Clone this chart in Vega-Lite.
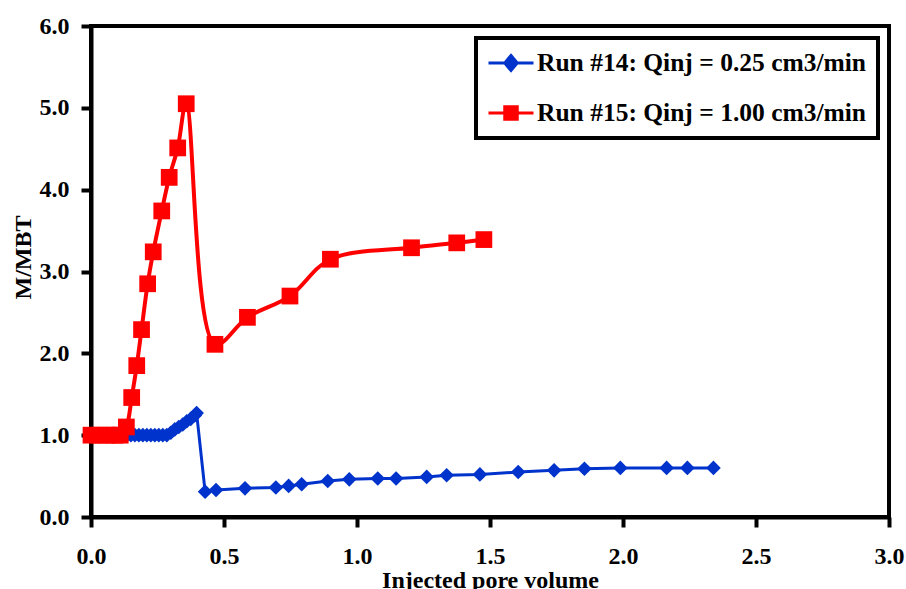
{
  "$schema": "https://vega.github.io/schema/vega-lite/v6.json",
  "width": 798,
  "height": 491,
  "autosize": {"type": "none"},
  "padding": {"left": 91, "top": 26, "right": 17, "bottom": 72},
  "background": "white",
  "config": {
    "view": {"stroke": "black", "strokeWidth": 4},
    "font": "Liberation Serif",
    "axis": {
      "grid": false,
      "domainColor": "black",
      "domainWidth": 4,
      "tickColor": "black",
      "tickWidth": 4,
      "tickSize": 10,
      "labelFlush": false,
      "labelFont": "Liberation Serif, Times New Roman, serif",
      "labelFontWeight": "bold",
      "labelFontSize": 24,
      "labelColor": "black",
      "titleFont": "Liberation Serif, Times New Roman, serif",
      "titleFontWeight": "bold",
      "titleFontSize": 24,
      "titleColor": "black"
    }
  },
  "data": {
    "values": [
      {"run": "Run #14: Qinj = 0.25 cm3/min", "pv": 0.0, "m": 1.0},
      {"run": "Run #14: Qinj = 0.25 cm3/min", "pv": 0.015, "m": 1.0},
      {"run": "Run #14: Qinj = 0.25 cm3/min", "pv": 0.03, "m": 1.0},
      {"run": "Run #14: Qinj = 0.25 cm3/min", "pv": 0.045, "m": 1.0},
      {"run": "Run #14: Qinj = 0.25 cm3/min", "pv": 0.06, "m": 1.0},
      {"run": "Run #14: Qinj = 0.25 cm3/min", "pv": 0.075, "m": 1.0},
      {"run": "Run #14: Qinj = 0.25 cm3/min", "pv": 0.09, "m": 1.0},
      {"run": "Run #14: Qinj = 0.25 cm3/min", "pv": 0.105, "m": 1.0},
      {"run": "Run #14: Qinj = 0.25 cm3/min", "pv": 0.12, "m": 1.0},
      {"run": "Run #14: Qinj = 0.25 cm3/min", "pv": 0.135, "m": 1.0},
      {"run": "Run #14: Qinj = 0.25 cm3/min", "pv": 0.15, "m": 1.0},
      {"run": "Run #14: Qinj = 0.25 cm3/min", "pv": 0.165, "m": 1.0},
      {"run": "Run #14: Qinj = 0.25 cm3/min", "pv": 0.18, "m": 1.0},
      {"run": "Run #14: Qinj = 0.25 cm3/min", "pv": 0.195, "m": 1.0},
      {"run": "Run #14: Qinj = 0.25 cm3/min", "pv": 0.21, "m": 1.0},
      {"run": "Run #14: Qinj = 0.25 cm3/min", "pv": 0.225, "m": 1.0},
      {"run": "Run #14: Qinj = 0.25 cm3/min", "pv": 0.24, "m": 1.0},
      {"run": "Run #14: Qinj = 0.25 cm3/min", "pv": 0.255, "m": 1.0},
      {"run": "Run #14: Qinj = 0.25 cm3/min", "pv": 0.27, "m": 1.0},
      {"run": "Run #14: Qinj = 0.25 cm3/min", "pv": 0.285, "m": 1.0},
      {"run": "Run #14: Qinj = 0.25 cm3/min", "pv": 0.30, "m": 1.03},
      {"run": "Run #14: Qinj = 0.25 cm3/min", "pv": 0.315, "m": 1.07},
      {"run": "Run #14: Qinj = 0.25 cm3/min", "pv": 0.33, "m": 1.10},
      {"run": "Run #14: Qinj = 0.25 cm3/min", "pv": 0.345, "m": 1.13},
      {"run": "Run #14: Qinj = 0.25 cm3/min", "pv": 0.36, "m": 1.17},
      {"run": "Run #14: Qinj = 0.25 cm3/min", "pv": 0.375, "m": 1.20},
      {"run": "Run #14: Qinj = 0.25 cm3/min", "pv": 0.39, "m": 1.24},
      {"run": "Run #14: Qinj = 0.25 cm3/min", "pv": 0.397, "m": 1.27},
      {"run": "Run #14: Qinj = 0.25 cm3/min", "pv": 0.429, "m": 0.31},
      {"run": "Run #14: Qinj = 0.25 cm3/min", "pv": 0.47, "m": 0.33},
      {"run": "Run #14: Qinj = 0.25 cm3/min", "pv": 0.579, "m": 0.35},
      {"run": "Run #14: Qinj = 0.25 cm3/min", "pv": 0.695, "m": 0.36},
      {"run": "Run #14: Qinj = 0.25 cm3/min", "pv": 0.743, "m": 0.38},
      {"run": "Run #14: Qinj = 0.25 cm3/min", "pv": 0.792, "m": 0.40},
      {"run": "Run #14: Qinj = 0.25 cm3/min", "pv": 0.89, "m": 0.44},
      {"run": "Run #14: Qinj = 0.25 cm3/min", "pv": 0.971, "m": 0.46},
      {"run": "Run #14: Qinj = 0.25 cm3/min", "pv": 1.078, "m": 0.47},
      {"run": "Run #14: Qinj = 0.25 cm3/min", "pv": 1.147, "m": 0.47},
      {"run": "Run #14: Qinj = 0.25 cm3/min", "pv": 1.262, "m": 0.49},
      {"run": "Run #14: Qinj = 0.25 cm3/min", "pv": 1.337, "m": 0.51},
      {"run": "Run #14: Qinj = 0.25 cm3/min", "pv": 1.462, "m": 0.52},
      {"run": "Run #14: Qinj = 0.25 cm3/min", "pv": 1.606, "m": 0.55},
      {"run": "Run #14: Qinj = 0.25 cm3/min", "pv": 1.741, "m": 0.57},
      {"run": "Run #14: Qinj = 0.25 cm3/min", "pv": 1.855, "m": 0.59},
      {"run": "Run #14: Qinj = 0.25 cm3/min", "pv": 1.99, "m": 0.60},
      {"run": "Run #14: Qinj = 0.25 cm3/min", "pv": 2.164, "m": 0.60},
      {"run": "Run #14: Qinj = 0.25 cm3/min", "pv": 2.242, "m": 0.60},
      {"run": "Run #14: Qinj = 0.25 cm3/min", "pv": 2.34, "m": 0.60},
      {"run": "Run #15: Qinj = 1.00 cm3/min", "pv": 0.0, "m": 1.0},
      {"run": "Run #15: Qinj = 1.00 cm3/min", "pv": 0.03, "m": 1.0},
      {"run": "Run #15: Qinj = 1.00 cm3/min", "pv": 0.06, "m": 1.0},
      {"run": "Run #15: Qinj = 1.00 cm3/min", "pv": 0.09, "m": 1.0},
      {"run": "Run #15: Qinj = 1.00 cm3/min", "pv": 0.11, "m": 1.0},
      {"run": "Run #15: Qinj = 1.00 cm3/min", "pv": 0.133, "m": 1.10},
      {"run": "Run #15: Qinj = 1.00 cm3/min", "pv": 0.153, "m": 1.46},
      {"run": "Run #15: Qinj = 1.00 cm3/min", "pv": 0.172, "m": 1.85},
      {"run": "Run #15: Qinj = 1.00 cm3/min", "pv": 0.19, "m": 2.29},
      {"run": "Run #15: Qinj = 1.00 cm3/min", "pv": 0.213, "m": 2.85},
      {"run": "Run #15: Qinj = 1.00 cm3/min", "pv": 0.234, "m": 3.24},
      {"run": "Run #15: Qinj = 1.00 cm3/min", "pv": 0.266, "m": 3.74},
      {"run": "Run #15: Qinj = 1.00 cm3/min", "pv": 0.294, "m": 4.15},
      {"run": "Run #15: Qinj = 1.00 cm3/min", "pv": 0.326, "m": 4.51},
      {"run": "Run #15: Qinj = 1.00 cm3/min", "pv": 0.358, "m": 5.05},
      {"run": "Run #15: Qinj = 1.00 cm3/min", "pv": 0.466, "m": 2.11},
      {"run": "Run #15: Qinj = 1.00 cm3/min", "pv": 0.588, "m": 2.44},
      {"run": "Run #15: Qinj = 1.00 cm3/min", "pv": 0.748, "m": 2.70},
      {"run": "Run #15: Qinj = 1.00 cm3/min", "pv": 0.90, "m": 3.15},
      {"run": "Run #15: Qinj = 1.00 cm3/min", "pv": 1.205, "m": 3.29},
      {"run": "Run #15: Qinj = 1.00 cm3/min", "pv": 1.375, "m": 3.35},
      {"run": "Run #15: Qinj = 1.00 cm3/min", "pv": 1.477, "m": 3.39}
    ]
  },
  "encoding": {
    "x": {
      "field": "pv",
      "type": "quantitative",
      "scale": {"domain": [0, 3], "nice": false, "zero": false},
      "axis": {
        "values": [0, 0.5, 1, 1.5, 2, 2.5, 3],
        "format": ".1f",
        "title": "Injected pore volume",
        "labelFlush": false,
        "labelFont": "Liberation Serif",
        "titleFont": "Liberation Serif",
        "labelPadding": 17,
        "titlePadding": 0
      }
    },
    "y": {
      "field": "m",
      "type": "quantitative",
      "scale": {"domain": [0, 6], "nice": false},
      "axis": {
        "values": [0, 1, 2, 3, 4, 5, 6],
        "format": ".1f",
        "title": "M/MBT",
        "labelFlush": false,
        "labelFont": "Liberation Serif",
        "titleFont": "Liberation Serif",
        "labelPadding": 12,
        "titlePadding": 4,
        "titleY": 231
      }
    },
    "color": {
      "field": "run",
      "type": "nominal",
      "scale": {
        "domain": ["Run #14: Qinj = 0.25 cm3/min", "Run #15: Qinj = 1.00 cm3/min"],
        "range": ["#0033CC", "#FF0000"]
      },
      "legend": {
        "title": null,
        "orient": "none",
        "legendX": 385,
        "legendY": 12,
        "padding": 11,
        "rowPadding": 22,
        "symbolSize": 625,
        "symbolOffset": 10,
        "labelOffset": 12,
        "labelFont": "Liberation Serif",
        "labelFontWeight": "bold",
        "labelFontSize": 25.5,
        "labelColor": "black",
        "labelLimit": 0,
        "strokeColor": "black",
        "fillColor": "white",
        "encode": {
          "legend": {"update": {"strokeWidth": {"value": 4}}},
          "symbols": {
            "update": {
              "shape": {"signal": "datum.value === 'Run #14: Qinj = 0.25 cm3/min' ? 'M-1.8,0H1.8M0,-0.6L0.5,0L0,0.6L-0.5,0Z' : 'M-1.8,0H1.8M-0.5,-0.5H0.5V0.5H-0.5Z'"},
              "fill": {"signal": "datum.value === 'Run #14: Qinj = 0.25 cm3/min' ? '#0033CC' : '#FF0000'"},
              "stroke": {"signal": "datum.value === 'Run #14: Qinj = 0.25 cm3/min' ? '#0033CC' : '#FF0000'"},
              "strokeWidth": {"value": 3},
              "opacity": {"value": 1},
              "fillOpacity": {"value": 1},
              "strokeOpacity": {"value": 1}
            }
          }
        }
      }
    }
  },
  "layer": [
    {
      "transform": [{"filter": "datum.run === 'Run #14: Qinj = 0.25 cm3/min'"}],
      "mark": {"type": "line", "strokeWidth": 3, "interpolate": "linear"}
    },
    {
      "transform": [{"filter": "datum.run === 'Run #14: Qinj = 0.25 cm3/min'"}],
      "mark": {"type": "point", "shape": "diamond", "filled": true, "size": 215, "opacity": 1}
    },
    {
      "transform": [{"filter": "datum.run === 'Run #15: Qinj = 1.00 cm3/min'"}],
      "mark": {"type": "line", "strokeWidth": 4, "interpolate": "catmull-rom"}
    },
    {
      "transform": [{"filter": "datum.run === 'Run #15: Qinj = 1.00 cm3/min'"}],
      "mark": {"type": "point", "shape": "square", "filled": true, "size": 280, "opacity": 1}
    }
  ]
}
